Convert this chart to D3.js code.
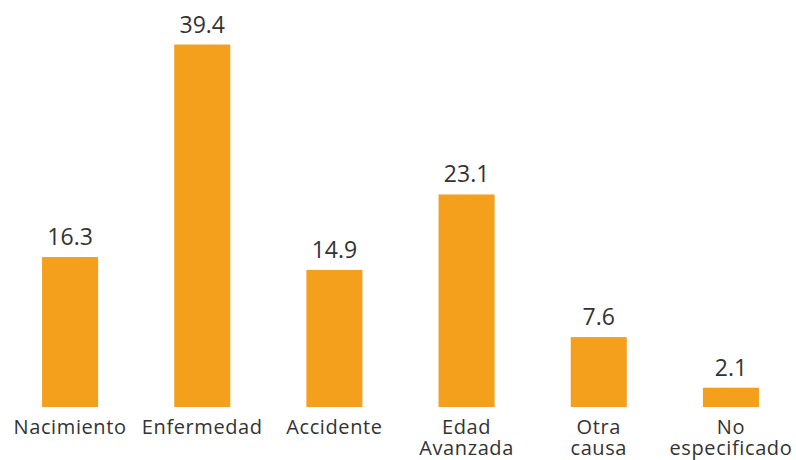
<!DOCTYPE html>
<html>
<head>
<meta charset="utf-8">
<script src="https://cdn.jsdelivr.net/npm/d3@7"></script>
<style>
  body { margin: 0; background: #fff; }
  text { font-family: "Open Sans", sans-serif; fill: #333; }
</style>
</head>
<body>
<div id="chart"></div>
<script>
var categories = ["Nacimiento", "Enfermedad", "Accidente", "Edad Avanzada", "Otra causa", "No especificado"]
var values = [16.3, 39.4, 14.9, 23.1, 7.6, 2.1]
var yMax = 40

var width = 796
var height = 460
var baseY = 407

var svg = d3.select("#chart")
  .append("svg")
    .attr("width", width)
    .attr("height", height)

var x = d3.scaleBand()
  .domain(categories)
  .range([4, 797])
  .paddingInner(0.576)
  .paddingOuter(0.288)

var y = d3.scaleLinear()
  .domain([0, yMax])
  .range([baseY, baseY - 368])

// bars
svg.append("g")
  .selectAll("rect")
  .data(values).enter()
  .append("rect")
    .attr("x", function(d, i) { return x(categories[i]) })
    .attr("y", function(d) { return y(d) })
    .attr("width", x.bandwidth())
    .attr("height", function(d) { return baseY - y(d) })
    .style("fill", "#f4a01c")

// value labels
svg.append("g")
  .selectAll("text")
  .data(values).enter()
  .append("text")
    .attr("x", function(d, i) { return x(categories[i]) + x.bandwidth() / 2 })
    .attr("y", function(d) { return y(d) - 12 })
    .attr("text-anchor", "middle")
    .style("font-size", "23px")
    .text(function(d) { return d.toFixed(1) })

// category axis
var axis = svg.append("g")
  .attr("transform", "translate(0," + baseY + ")")
  .call(d3.axisBottom(x).tickSize(0))

axis.select(".domain").remove()

axis.selectAll("text")
  .attr("y", 27)
  .attr("dy", null)
  .style("font-size", "20px")
  .style("letter-spacing", "0.6px")
  .style("font-family", "'Open Sans', sans-serif")
  .style("fill", "#333")
  .each(function(d) {
    var t = d3.select(this)
    var lines = d.split(" ")
    t.text(null)
    lines.forEach(function(l, k) {
      t.append("tspan")
        .attr("x", 0)
        .attr("dy", k == 0 ? 0 : 21)
        .text(l)
    })
  })
</script>
</body>
</html>
